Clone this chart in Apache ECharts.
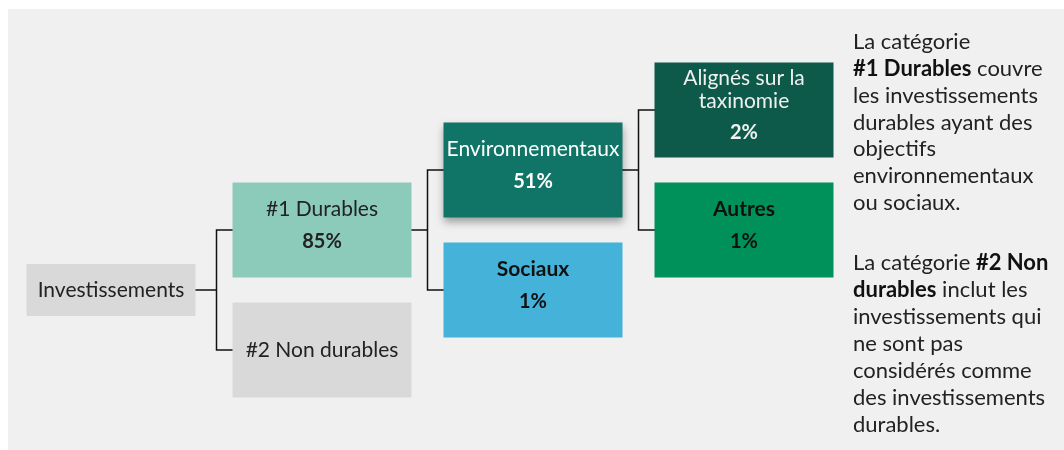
<!DOCTYPE html>
<html>
<head>
<meta charset="utf-8">
<script src="https://cdn.jsdelivr.net/npm/echarts@6/dist/echarts.min.js"></script>
<style>
html,body{margin:0;padding:0;background:#fff;}
#chart{width:1064px;height:450px;}
</style>
</head>
<body>
<div id="chart"></div>
<script>
// ---- data ----
const nodeNames = ['Investissements', '#1 Durables', '#2 Non durables', 'Environnementaux', 'Sociaux', 'Alignés sur la\ntaxinomie', 'Autres'];
const nodeValues = [null, 85, null, 51, 1, 2, 1];
const nodeParents = [-1, 0, 0, 1, 1, 3, 3];
const noteLines1 = ['La catégorie', '{b|#1 Durables} couvre', 'les investissements', 'durables ayant des', 'objectifs', 'environnementaux', 'ou sociaux.'];
const noteLines2 = ['La catégorie {b|#2 Non}', '{b|durables} inclut les', 'investissements qui', 'ne sont pas', 'considérés comme', 'des investissements', 'durables.'];

// ---- styles (kept separate from data) ----
const boxColors = ['#d9d9d9', '#8ccbb9', '#d9d9d9', '#107566', '#45b3d9', '#0d5a4b', '#00915a'];
const textColors = ['#222', '#222', '#222', '#ffffff', '#111', '#f0f0f0', '#111'];
const nameWeights = ['normal', 'normal', 'normal', 'normal', 'bold', 'normal', 'bold'];
const FONT = 'Lato';

function buildNode(i) {
  const node = {
    name: nodeNames[i],
    value: nodeValues[i],
    symbol: 'rect',
    symbolSize: i === 0 ? [169, 52] : [179, 95],
    itemStyle: {
      color: boxColors[i],
      borderWidth: 0
    },
    label: {
      color: textColors[i],
      rich: {
        n: { color: textColors[i], fontSize: 21, fontFamily: FONT, fontWeight: nameWeights[i], lineHeight: 23, align: 'center' },
        v: { color: textColors[i], fontSize: 20, fontFamily: FONT, fontWeight: 'bold', lineHeight: 41, align: 'center' }
      }
    },
    children: []
  };
  if (i === 3) {
    node.itemStyle.shadowBlur = 8;
    node.itemStyle.shadowOffsetY = 4;
    node.itemStyle.shadowColor = 'rgba(0,0,0,0.35)';
  }
  nodeParents.forEach(function (p, j) { if (p === i) node.children.push(buildNode(j)); });
  return node;
}
const treeData = [buildNode(0)];

const chart = echarts.init(document.getElementById('chart'), null, { renderer: 'canvas' });

function noteText(lines) { return lines.join('\n'); }

const option = {
  backgroundColor: '#ffffff',
  animation: false,
  graphic: [
    { type: 'rect', z: -10, shape: { x: 8, y: 9, width: 1056, height: 441 }, style: { fill: '#f0f0f0' } },
    { type: 'text', left: 853, top: 29, z: 10,
      style: { text: noteText(noteLines1), fill: '#222', fontSize: 22, fontFamily: FONT, lineHeight: 26.7,
        rich: { b: { fontWeight: 'bold', fontSize: 22, fontFamily: FONT, fill: '#111', lineHeight: 26.7 } } } },
    { type: 'text', left: 853, top: 249, z: 10,
      style: { text: noteText(noteLines2), fill: '#222', fontSize: 22, fontFamily: FONT, lineHeight: 27,
        rich: { b: { fontWeight: 'bold', fontSize: 22, fontFamily: FONT, fill: '#111', lineHeight: 27 } } } }
  ],
  series: [{
    type: 'tree',
    data: treeData,
    orient: 'LR',
    left: 111,
    width: 633,
    top: -10,
    height: 480,
    roam: false,
    expandAndCollapse: false,
    initialTreeDepth: -1,
    edgeShape: 'polyline',
    edgeForkPosition: '50%',
    lineStyle: { color: '#111', width: 1.5, curveness: 0 },
    label: {
      show: true,
      position: 'inside',
      align: 'center',
      verticalAlign: 'middle',
      formatter: function (p) {
        const v = p.data.value;
        const nameLines = p.name.split('\n').map(function (s) { return '{n|' + s + '}'; }).join('\n');
        return v == null ? nameLines : nameLines + '\n{v|' + v + '%}';
      }
    },
    leaves: {
      label: { position: 'inside', align: 'center', verticalAlign: 'middle' }
    },
    emphasis: { disabled: true },
    tooltip: { show: false }
  }]
};
chart.setOption(option);
</script>
</body>
</html>
